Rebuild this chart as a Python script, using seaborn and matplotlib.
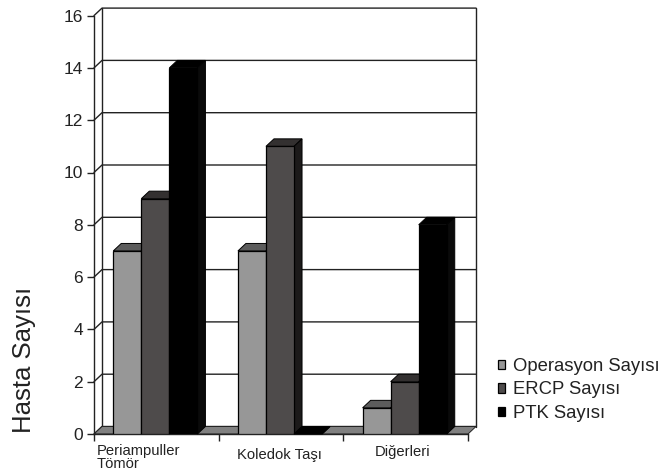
import pandas as pd
import matplotlib.pyplot as plt
import matplotlib.transforms as mtrans
from matplotlib.patches import Polygon
import seaborn as sns

# -----------------------------
# Data
# -----------------------------

categories = ["Periampuller\nTömör", "Koledok Taşı", "Diğerleri"]
operasyon = [7, 7, 1]
ercp = [9, 11, 2]
ptk = [14, 0, 8]
series_names = ["Operasyon Sayısı", "ERCP Sayısı", "PTK Sayısı"]
y_ticks = list(range(0, 17, 2))

front_colors = ["#979797", "#4e4b4b", "#000000"]
top_colors = ["#5c5c5c", "#333030", "#000000"]
side_colors = ["#6a6a6a", "#1c1a1a", "#0a0a0a"]

data = pd.DataFrame({
    "cat": categories * 3,
    "val": operasyon + ercp + ptk,
    "series": [s for s in series_names for _ in categories],
})

# -----------------------------
# Plot
# -----------------------------

sns.set_style("white")
plt.rcParams["font.family"] = ["Liberation Sans", "DejaVu Sans"]

fig = plt.figure(figsize=(6.62, 4.71), dpi=100)
ax = fig.add_axes([94 / 662, 37 / 471, 374 / 662, 418.4 / 471])

sns.barplot(
    data=data, x="cat", y="val", hue="series", hue_order=series_names,
    palette=front_colors, width=0.675, gap=0, saturation=1,
    edgecolor="black", linewidth=0.9, zorder=4, ax=ax, legend=True,
)

ax.set_xlim(-0.492, 2.508)
ax.set_ylim(0, 16)
ax.set_xlabel("")
ax.set_ylabel("Hasta Sayısı", fontsize=18.5, color="#222222", labelpad=0)
ax.yaxis.set_label_coords(-0.155, 0.177)

# depth of the fake 3d box, in data units
dx = 8 / (374 / 3)
dy = 7.5 / (418.4 / 16)

# back wall and grid
x0, x1 = ax.get_xlim()
for y in y_ticks:
    ax.plot([x0, x0 + dx, x1 + dx], [y, y + dy, y + dy], color="#222222",
            lw=1.0, clip_on=False, zorder=1)
ax.plot([x0 + dx, x0 + dx], [dy, 16 + dy], color="#222222", lw=1.0, clip_on=False, zorder=1)
ax.plot([x1 + dx, x1 + dx], [dy, 16 + dy], color="#222222", lw=1.0, clip_on=False, zorder=1)

# floor
ax.add_patch(Polygon(
    [(x0, 0), (x0 + dx, dy), (x1 + dx, dy), (x1, 0)], closed=True,
    facecolor="#808080", edgecolor="#222222", lw=0.7, clip_on=False, zorder=2,
))

# top and side faces of each bar, left to right
z = 4.0
bars = []
for i, container in enumerate(ax.containers):
    for bar in container:
        bars.append((bar.get_x(), i, bar))
for _, i, bar in sorted(bars, key=lambda b: b[0]):
    left = bar.get_x()
    right = left + bar.get_width()
    h = bar.get_height()
    z += 0.01
    bar.set_zorder(z + 0.005)
    ax.add_patch(Polygon(
        [(left, h), (left + dx, h + dy), (right + dx, h + dy), (right, h)],
        closed=True, facecolor=top_colors[i], edgecolor="black", lw=0.7,
        clip_on=False, zorder=z,
    ))
    ax.add_patch(Polygon(
        [(right, 0), (right + dx, dy), (right + dx, h + dy), (right, h)],
        closed=True, facecolor=side_colors[i], edgecolor="black", lw=0.7,
        clip_on=False, zorder=z,
    ))

# axes and ticks
sns.despine(ax=ax)
for side in ["left", "bottom"]:
    ax.spines[side].set_color("#222222")
    ax.spines[side].set_linewidth(1.0)
    ax.spines[side].set_zorder(3)

ax.set_yticks(y_ticks)
ax.tick_params(axis="y", left=True, length=5, width=1.0, color="#222222",
               labelsize=12.5, labelcolor="#222222", pad=3)

ax.set_xticks([x0, x0 + 1, x0 + 2, x1])
ax.set_xticklabels([])
ax.tick_params(axis="x", which="major", bottom=True, length=5, width=1.0, color="#222222")
ax.set_xticks([0, 1, 2], minor=True)
ax.set_xticklabels(categories, minor=True, fontsize=10.6, color="#222222", linespacing=0.92)
ax.tick_params(axis="x", which="minor", bottom=False, length=0, pad=7)

labels = ax.get_xticklabels(minor=True)
labels[0].set_multialignment("left")
labels[0].set_transform(labels[0].get_transform()
                        + mtrans.ScaledTranslation(-17 / 100, 0, fig.dpi_scale_trans))
labels[1].set_transform(labels[1].get_transform()
                        + mtrans.ScaledTranslation(-1 / 100, -4 / 100, fig.dpi_scale_trans))
labels[2].set_transform(labels[2].get_transform()
                        + mtrans.ScaledTranslation(-2 / 100, -1 / 100, fig.dpi_scale_trans))

# legend
ax.legend(
    title=None, loc="center left", frameon=False, fontsize=13.3, labelcolor="#222222",
    handlelength=0.4, handleheight=0.4, handletextpad=0.42, labelspacing=0.36,
    borderaxespad=0, borderpad=0.4,
)
ax.get_legend().set_bbox_to_anchor((490.5 / 662, 1 - 390 / 471), transform=fig.transFigure)

fig.savefig("out.png", dpi=100)
